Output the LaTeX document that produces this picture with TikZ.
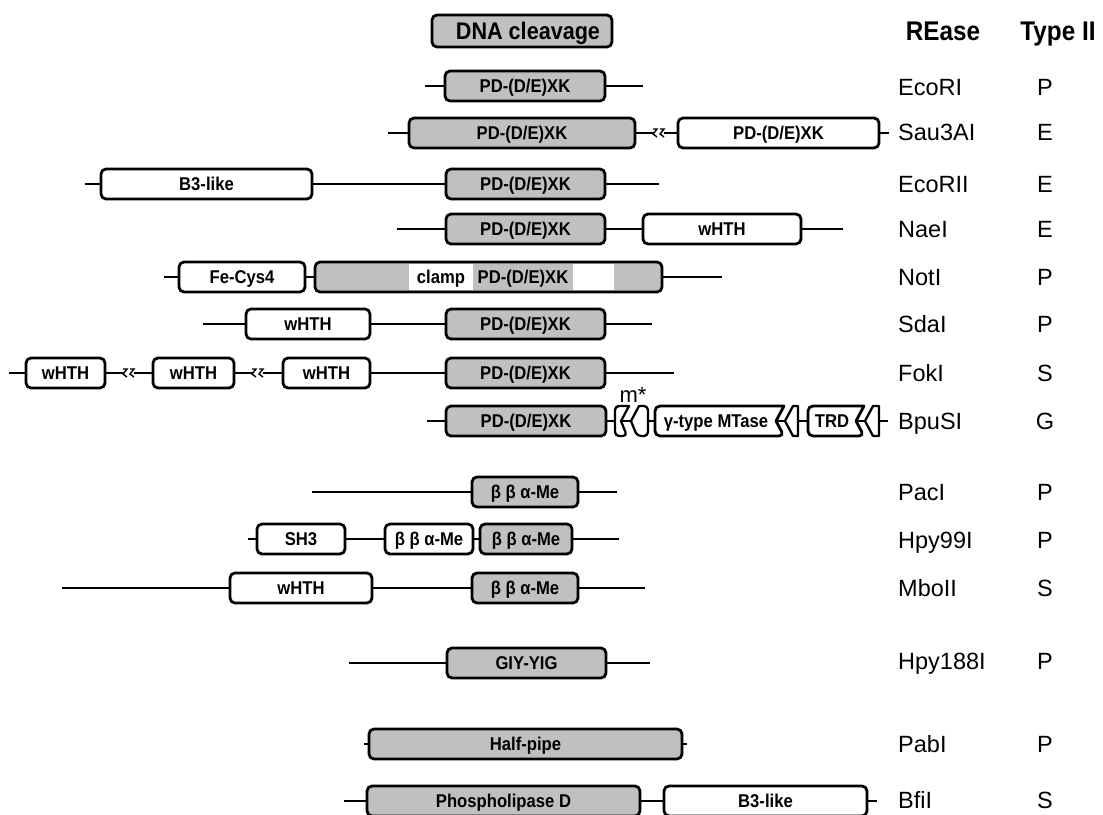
\documentclass[tikz,border=0pt]{standalone}
\usepackage{fontspec}
\setmainfont{Liberation Sans}
\newfontfamily\narrowsf[FakeStretch=0.9]{Liberation Sans}
\usetikzlibrary{positioning}
\definecolor{domgray}{RGB}{192,192,192}
\tikzset{
  chain/.style={line width=2.2pt},
  dline/.style={line width=2.8pt, line join=round},
  cutline/.style={line width=2.3pt, line join=round},
  dom/.style={draw, dline, rounded corners=5pt, minimum height=30pt, inner sep=0pt,
    text height=13.2pt, text depth=0pt,
    font=\narrowsf\bfseries\fontsize{18.5}{22}\selectfont},
  pdx/.style={dom, fill=domgray},
  wdx/.style={dom, fill=white},
  lbl/.style={inner sep=0pt, text height=13.2pt, text depth=0pt,
    font=\narrowsf\bfseries\fontsize{18.5}{22}\selectfont},
  rname/.style={anchor=west, inner sep=0pt, text height=16.8pt, text depth=0pt,
    font=\fontsize{23.5}{26}\selectfont},
  rtype/.style={inner sep=0pt, text height=16.8pt, text depth=0pt,
    font=\fontsize{23.5}{26}\selectfont},
  hdr/.style={inner sep=0pt, text height=19.3pt, text depth=0pt,
    font=\narrowsf\bfseries\fontsize{27}{30}\selectfont},
}
% break mark on a linker
\newcommand{\lnbreak}[2]{%
  \fill[white] ({#1-8},{#2-6}) rectangle ({#1+8},{#2+6});
  \draw[line width=1.4pt] ({#1-6},{#2-4}) -- ({#1-2},{#2-4}) -- ({#1-6},{#2+1}) -- ({#1-2},{#2+4});
  \draw[line width=1.4pt] ({#1+1},{#2-4}) -- ({#1+5},{#2-4}) -- ({#1+1},{#2+1}) -- ({#1+5},{#2+4});
  \draw[chain] ({#1-8},#2) -- ({#1-5},#2) ({#1+5},#2) -- ({#1+8},#2);
}

\begin{document}
\begin{tikzpicture}[x=1pt, y=-1pt]
    \useasboundingbox (0,0) rectangle (1103,814);
    \clip (0,0) rectangle (1103,814);

    % header
    \node[pdx, minimum width=180pt, minimum height=32pt, text height=17.2pt, font=\narrowsf\bfseries\fontsize{24}{28}\selectfont] (dna) at (522,31) {\hspace{12pt}DNA cleavage};
    \node[hdr] (hdr-rease) at (943,31) {REase};
    \node[hdr] (hdr-type) at (1058,31) {Type II};

    % PD-(D/E)XK
    \coordinate (eco-s) at (425,86); \coordinate (eco-e) at (643,86);
    \node[pdx, minimum width=160pt] (eco1) at (525,86) {PD-(D/E)XK};
    \draw[chain] (eco-s) -- (eco1) -- (eco-e);

    \coordinate (sau-s) at (388,133); \coordinate (sau-e) at (889,133);
    \node[pdx, minimum width=226pt] (sau1) at (522,133) {PD-(D/E)XK};
    \node[wdx, minimum width=201pt] (sau2) at (778.5,133) {PD-(D/E)XK};
    \draw[chain] (sau-s) -- (sau1) -- (sau2) -- (sau-e);
    \lnbreak{659}{133}

    \coordinate (ecoii-s) at (85,184); \coordinate (ecoii-e) at (659,184);
    \node[wdx, minimum width=211pt] (ecoii1) at (206.5,184) {B3-like};
    \node[pdx, minimum width=159pt] (ecoii2) at (525.5,184) {PD-(D/E)XK};
    \draw[chain] (ecoii-s) -- (ecoii1) -- (ecoii2) -- (ecoii-e);

    \coordinate (nae-s) at (397,229); \coordinate (nae-e) at (843,229);
    \node[pdx, minimum width=159pt] (nae1) at (525.5,229) {PD-(D/E)XK};
    \node[wdx, minimum width=158pt] (nae2) at (722,229) {wHTH};
    \draw[chain] (nae-s) -- (nae1) -- (nae2) -- (nae-e);

    \coordinate (not-s) at (164,277); \coordinate (not-e) at (722,277);
    \node[wdx, minimum width=126pt] (not1) at (242,277) {Fe-Cys4};
    \node[pdx, minimum width=347pt] (not2) at (488.5,277) {};
    \fill[white] (409,264) rectangle (473,290);
    \fill[white] (573,264) rectangle (614,290);
    \node[lbl] (not-clamp) at (441,277) {clamp};
    \node[lbl] (not-pd) at (523,277) {PD-(D/E)XK};
    \draw[chain] (not-s) -- (not1) -- (not2) -- (not-e);

    \coordinate (sda-s) at (203,324); \coordinate (sda-e) at (652,324);
    \node[wdx, minimum width=124pt] (sda1) at (308,324) {wHTH};
    \node[pdx, minimum width=159pt] (sda2) at (525.5,324) {PD-(D/E)XK};
    \draw[chain] (sda-s) -- (sda1) -- (sda2) -- (sda-e);

    \coordinate (fok-s) at (9,373); \coordinate (fok-e) at (674,373);
    \node[wdx, minimum width=79pt] (fok1) at (65.5,373) {wHTH};
    \node[wdx, minimum width=81pt] (fok2) at (193.5,373) {wHTH};
    \node[wdx, minimum width=87pt] (fok3) at (326.5,373) {wHTH};
    \node[pdx, minimum width=159pt] (fok4) at (525.5,373) {PD-(D/E)XK};
    \draw[chain] (fok-s) -- (fok1) -- (fok2) -- (fok3) -- (fok4) -- (fok-e);
    \lnbreak{129}{373}
    \lnbreak{258}{373}

    \coordinate (bpu-s) at (427,421); \coordinate (bpu-e) at (888,421);
    \node[pdx, minimum width=160pt] (bpu1) at (526,421) {PD-(D/E)XK};
    \draw[chain] (bpu-s) -- (bpu1) -- (bpu-e);
    \filldraw[cutline, fill=white] (629,406) [rounded corners=4pt] -- (615,406) -- (615,436) -- (627,436) [sharp corners] -- (621,421) -- cycle;
    \filldraw[cutline, fill=white] (639,406) [rounded corners=4pt] -- (648,406) -- (648,436) -- (637,436) [sharp corners] -- (631,421) -- cycle;
    \node[inner sep=0pt, font=\fontsize{22}{24}\selectfont] (bpu-m) at (633,395) {m*};
    \filldraw[dline, fill=white] (784,406) [rounded corners=5pt] -- (655,406) -- (655,436) -- (784,436) [sharp corners] -- (776,421) -- cycle;
    \filldraw[cutline, fill=white] (793,406) -- (798,406) -- (798,436) -- (793,436) -- (785,421) -- cycle;
    \node[lbl] (bpu-mtase) at (716,421) {γ-type MTase};
    \filldraw[dline, fill=white] (864,406) [rounded corners=5pt] -- (808,406) -- (808,436) -- (864,436) [sharp corners] -- (856,421) -- cycle;
    \filldraw[cutline, fill=white] (873,406) -- (879,406) -- (879,436) -- (873,436) -- (865,421) -- cycle;
    \node[lbl] (bpu-trd) at (832,421) {TRD};

    % beta-beta-alpha-Me
    \coordinate (pac-s) at (312,492); \coordinate (pac-e) at (617,492);
    \node[pdx, minimum width=106pt] (pac1) at (525,492) {β β α-Me};
    \draw[chain] (pac-s) -- (pac1) -- (pac-e);

    \coordinate (hpy-s) at (248,539); \coordinate (hpy-e) at (619,539);
    \node[wdx, minimum width=88pt] (hpy1) at (301,539) {SH3};
    \node[wdx, minimum width=88pt] (hpy2) at (429,539) {β β α-Me};
    \node[pdx, minimum width=92pt] (hpy3) at (526,539) {β β α-Me};
    \draw[chain] (hpy-s) -- (hpy1) -- (hpy2) -- (hpy3) -- (hpy-e);

    \coordinate (mbo-s) at (62,588); \coordinate (mbo-e) at (645,588);
    \node[wdx, minimum width=142pt] (mbo1) at (301,588) {wHTH};
    \node[pdx, minimum width=106pt] (mbo2) at (525,588) {β β α-Me};
    \draw[chain] (mbo-s) -- (mbo1) -- (mbo2) -- (mbo-e);

    % other folds
    \coordinate (giy-s) at (349,663); \coordinate (giy-e) at (650,663);
    \node[pdx, minimum width=159pt] (giy1) at (526.5,663) {GIY-YIG};
    \draw[chain] (giy-s) -- (giy1) -- (giy-e);

    \coordinate (pab-s) at (364,744); \coordinate (pab-e) at (687,744);
    \node[pdx, minimum width=313pt] (pab1) at (525.5,744) {Half-pipe};
    \draw[chain] (pab-s) -- (pab1) -- (pab-e);

    \coordinate (bfi-s) at (344,801); \coordinate (bfi-e) at (877,801);
    \node[pdx, minimum width=273pt] (bfi1) at (503.5,801) {Phospholipase D};
    \node[wdx, minimum width=203pt] (bfi2) at (765.5,801) {B3-like};
    \draw[chain] (bfi-s) -- (bfi1) -- (bfi2) -- (bfi-e);

    % names and types
    \foreach \nm/\ty/\yy [count=\i] in {EcoRI/P/87, Sau3AI/E/132, EcoRII/E/184, NaeI/E/229,
        NotI/P/277, SdaI/P/324, FokI/S/373, BpuSI/G/421, PacI/P/492, Hpy99I/P/540,
        MboII/S/588, Hpy188I/P/661, PabI/P/744, BfiI/S/800} {
      \node[rname] (name\i) at (898,\yy) {\nm};
      \node[rtype] (type\i) at (1045,\yy) {\ty};
    }
\end{tikzpicture}
\end{document}
